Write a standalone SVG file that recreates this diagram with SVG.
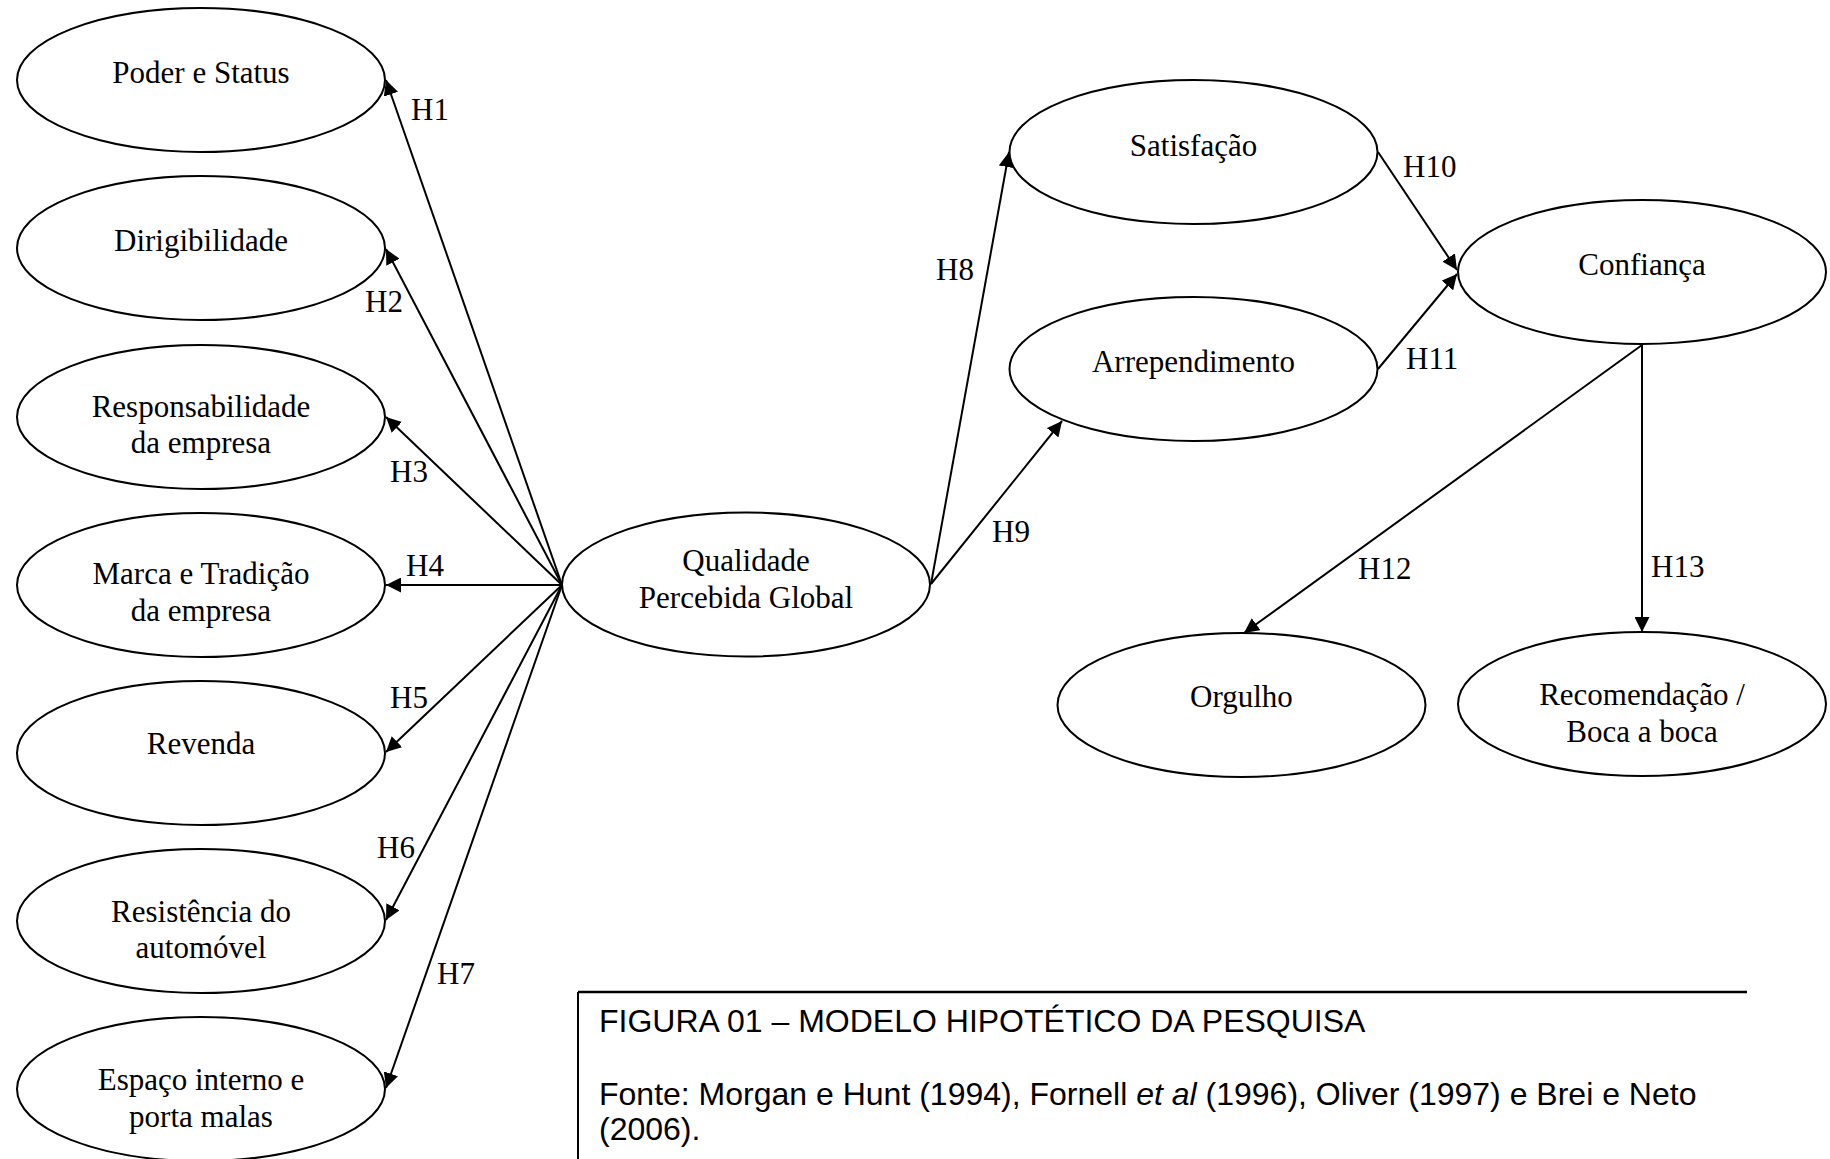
<svg xmlns="http://www.w3.org/2000/svg" width="1830" height="1159" viewBox="0 0 1830 1159">
<defs>
<marker id="ah" markerWidth="15" markerHeight="15" refX="15" refY="7.5" orient="auto" markerUnits="userSpaceOnUse">
<path d="M0,0 L15,7.5 L0,15 Z" fill="#000"/>
</marker>
<style>
.n ellipse{fill:#fff;stroke:#000;stroke-width:2}
.t{font-family:"Liberation Serif","Times New Roman",serif;font-size:31px;fill:#000;text-anchor:middle}
.lbl{font-family:"Liberation Serif","Times New Roman",serif;font-size:31px;fill:#000}
.e line{stroke:#000;stroke-width:2;marker-end:url(#ah)}
.cap{font-family:"Liberation Sans",Arial,sans-serif;font-size:32px;fill:#000}
</style>
</defs>
<rect width="1830" height="1159" fill="#fff"/>
<g id="connectors" class="e">
<line x1="562" y1="585" x2="386" y2="80"/>
<line x1="562" y1="585" x2="386" y2="249"/>
<line x1="562" y1="585" x2="386" y2="417"/>
<line x1="562" y1="585" x2="386" y2="585"/>
<line x1="562" y1="585" x2="386" y2="752"/>
<line x1="562" y1="585" x2="386" y2="920"/>
<line x1="562" y1="585" x2="386" y2="1088"/>
<line x1="931" y1="584" x2="1009" y2="152"/>
<line x1="931" y1="584" x2="1062" y2="421"/>
<line x1="1378" y1="152" x2="1457" y2="270"/>
<line x1="1378" y1="369" x2="1457" y2="274"/>
<line x1="1642" y1="345" x2="1244" y2="633"/>
<line x1="1642" y1="345" x2="1642" y2="632"/>
</g>
<g id="labels" class="lbl">
<text x="411" y="120">H1</text>
<text x="365" y="312">H2</text>
<text x="390" y="482">H3</text>
<text x="406" y="576">H4</text>
<text x="390" y="708">H5</text>
<text x="377" y="858">H6</text>
<text x="437" y="984">H7</text>
<text x="936" y="280">H8</text>
<text x="992" y="542">H9</text>
<text x="1403" y="177">H10</text>
<text x="1406" y="369">H11</text>
<text x="1358" y="579">H12</text>
<text x="1651" y="577">H13</text>
</g>
<g id="poder" class="n"><ellipse cx="201" cy="80" rx="184" ry="72"/><text class="t" x="201" y="83">Poder e Status</text></g>
<g id="dirigibilidade" class="n"><ellipse cx="201" cy="248" rx="184" ry="72"/><text class="t" x="201" y="251">Dirigibilidade</text></g>
<g id="responsabilidade" class="n"><ellipse cx="201" cy="417" rx="184" ry="72"/><text class="t" x="201" y="417">Responsabilidade</text><text class="t" x="201" y="453">da empresa</text></g>
<g id="marca" class="n"><ellipse cx="201" cy="585" rx="184" ry="72"/><text class="t" x="201" y="584">Marca e Tradição</text><text class="t" x="201" y="621">da empresa</text></g>
<g id="revenda" class="n"><ellipse cx="201" cy="753" rx="184" ry="72"/><text class="t" x="201" y="754">Revenda</text></g>
<g id="resistencia" class="n"><ellipse cx="201" cy="921" rx="184" ry="72"/><text class="t" x="201" y="922">Resistência do</text><text class="t" x="201" y="958">automóvel</text></g>
<g id="espaco" class="n"><ellipse cx="201" cy="1089" rx="184" ry="72"/><text class="t" x="201" y="1090">Espaço interno e</text><text class="t" x="201" y="1127">porta malas</text></g>
<g id="qualidade" class="n"><ellipse cx="746" cy="584.5" rx="184" ry="72"/><text class="t" x="746" y="571">Qualidade</text><text class="t" x="746" y="608">Percebida Global</text></g>
<g id="satisfacao" class="n"><ellipse cx="1193.5" cy="152" rx="184" ry="72"/><text class="t" x="1193.5" y="156">Satisfação</text></g>
<g id="arrependimento" class="n"><ellipse cx="1193.5" cy="369" rx="184" ry="72"/><text class="t" x="1193.5" y="372">Arrependimento</text></g>
<g id="confianca" class="n"><ellipse cx="1642" cy="272" rx="184" ry="72"/><text class="t" x="1642" y="275">Confiança</text></g>
<g id="orgulho" class="n"><ellipse cx="1241.5" cy="705" rx="184" ry="72"/><text class="t" x="1241.5" y="707">Orgulho</text></g>
<g id="recomendacao" class="n"><ellipse cx="1642" cy="704" rx="184" ry="72"/><text class="t" x="1642" y="705">Recomendação /</text><text class="t" x="1642" y="742">Boca a boca</text></g>
<g id="caption">
<line x1="578" y1="992" x2="1747" y2="992" stroke="#000" stroke-width="2.5"/>
<line x1="578" y1="992" x2="578" y2="1159" stroke="#000" stroke-width="2"/>
<text class="cap" x="599" y="1032">FIGURA 01 – MODELO HIPOTÉTICO DA PESQUISA</text>
<text class="cap" x="599" y="1105">Fonte: Morgan e Hunt (1994), Fornell <tspan font-style="italic">et al</tspan> (1996), Oliver (1997) e Brei e Neto</text>
<text class="cap" x="599" y="1140">(2006).</text>
</g>
</svg>
